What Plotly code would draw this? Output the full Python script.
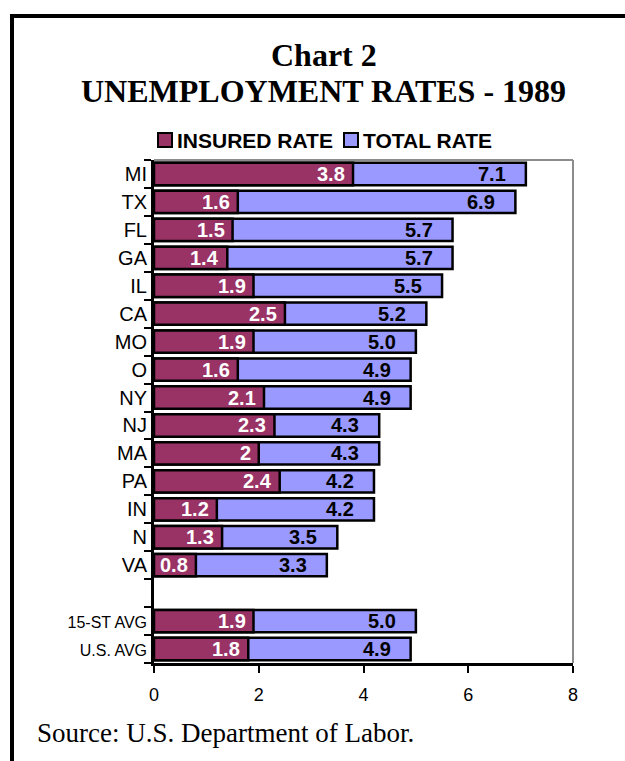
import plotly.graph_objects as go

states = ["MI", "TX", "FL", "GA", "IL", "CA", "MO", "O", "NY", "NJ", "MA", "PA",
          "IN", "N", "VA", " ", "15-ST AVG", "U.S. AVG"]
tick_labels = ["MI", "TX", "FL", "GA", "IL", "CA", "MO", "O", "NY", "NJ", "MA", "PA",
               "IN", "N", "VA", " ",
               "<span style='font-size:16px'>15-ST AVG</span>",
               "<span style='font-size:16px'>U.S. AVG</span>"]
insured = [3.8, 1.6, 1.5, 1.4, 1.9, 2.5, 1.9, 1.6, 2.1, 2.3, 2.0, 2.4,
           1.2, 1.3, 0.8, None, 1.9, 1.8]
insured_text = ["3.8", "1.6", "1.5", "1.4", "1.9", "2.5", "1.9", "1.6", "2.1", "2.3", "2", "2.4",
                "1.2", "1.3", "0.8", "", "1.9", "1.8"]
total = [7.1, 6.9, 5.7, 5.7, 5.5, 5.2, 5.0, 4.9, 4.9, 4.3, 4.3, 4.2,
         4.2, 3.5, 3.3, None, 5.0, 4.9]
x_ticks = [0, 2, 4, 6, 8]
series_names = ["INSURED RATE", "TOTAL RATE"]

RED = "#993366"
BLUE = "#9999FF"

W, H = 625, 761
L, R, T, B = 154, 52, 160, 98
PW, PH = W - L - R, H - T - B

def px(xp):
    return (xp - L) / PW

def py(yp):
    return (H - B - yp) / PH

fig = go.Figure()
fig.add_trace(go.Bar(
    y=states, x=total, orientation="h", name=series_names[1],
    marker=dict(color=BLUE, line=dict(color="black", width=2.5)),
    width=0.8, showlegend=False, hoverinfo="x+y",
))
fig.add_trace(go.Bar(
    y=states, x=insured, orientation="h", name=series_names[0],
    marker=dict(color=RED, line=dict(color="black", width=2.5)),
    width=0.8, showlegend=False, hoverinfo="x+y",
))

annotations = []
for s, v, t in zip(states, insured, insured_text):
    if v is None:
        continue
    annotations.append(dict(x=v, y=s, xref="x", yref="y", text=f"<b>{t}</b>",
                            showarrow=False, xanchor="right", xshift=-6,
                            font=dict(family="Arial, Liberation Sans", size=20, color="white")))
for s, v in zip(states, total):
    if v is None:
        continue
    annotations.append(dict(x=v, y=s, xref="x", yref="y", text=f"<b>{v:.1f}</b>",
                            showarrow=False, xanchor="right", xshift=-18,
                            font=dict(family="Arial, Liberation Sans", size=20, color="black")))

serif = "Times New Roman, Liberation Serif"
annotations += [
    dict(x=px(324), y=py(55), xref="paper", yref="paper", text="<b>Chart 2</b>",
         showarrow=False, xanchor="center", yanchor="middle",
         font=dict(family=serif, size=32, color="black")),
    dict(x=px(323), y=py(91), xref="paper", yref="paper", text="<b>UNEMPLOYMENT RATES - 1989</b>",
         showarrow=False, xanchor="center", yanchor="middle",
         font=dict(family=serif, size=32, color="black")),
    dict(x=px(35), y=py(733), xref="paper", yref="paper", text="Source: U.S. Department of Labor.",
         showarrow=False, xanchor="left", yanchor="middle",
         font=dict(family=serif, size=27, color="black")),
]

# legend (manual: swatch + label)
legend_items = [(series_names[0], RED, 158), (series_names[1], BLUE, 344)]
shapes = []
for name, col, x0 in legend_items:
    shapes.append(dict(type="rect", xref="paper", yref="paper",
                       x0=px(x0), x1=px(x0 + 14), y0=py(147), y1=py(133),
                       fillcolor=col, line=dict(color="black", width=2)))
    annotations.append(dict(x=px(x0 + 17), y=py(140.5), xref="paper", yref="paper",
                            text=f"<b>{name}</b>", showarrow=False,
                            xanchor="left", yanchor="middle",
                            font=dict(family="Arial, Liberation Sans", size=21, color="black")))

shapes += [
    # outer frame (left and top)
    dict(type="line", xref="paper", yref="paper", x0=px(12), x1=px(12), y0=py(14), y1=py(775),
         line=dict(color="black", width=4)),
    dict(type="line", xref="paper", yref="paper", x0=px(10), x1=px(640), y0=py(16), y1=py(16),
         line=dict(color="black", width=4)),
    # plot area gray frame top/right
    dict(type="line", xref="paper", yref="paper", x0=0, x1=1, y0=1, y1=1,
         line=dict(color="#8c8c8c", width=2)),
    dict(type="line", xref="paper", yref="paper", x0=1, x1=1, y0=0, y1=1,
         line=dict(color="#8c8c8c", width=2)),
]

fig.update_layout(
    width=W, height=H,
    margin=dict(l=L, r=R, t=T, b=B, pad=0),
    paper_bgcolor="white", plot_bgcolor="white",
    barmode="overlay",
    font=dict(family="Arial, Liberation Sans", color="black"),
    showlegend=False,
    annotations=annotations,
    shapes=shapes,
    xaxis=dict(range=[0, 8], tickmode="array", tickvals=x_ticks, ticks="outside", ticklen=7,
               tickwidth=2, tickcolor="black", showline=True, linecolor="black", linewidth=3,
               showgrid=False, zeroline=False, tickfont=dict(size=18), ticklabelstandoff=6,
               fixedrange=True),
    yaxis=dict(type="category", categoryorder="array", categoryarray=states,
               autorange="reversed", tickmode="array", tickvals=states, ticktext=tick_labels,
               tickson="boundaries", ticks="outside", ticklen=7, tickwidth=2, tickcolor="black",
               showline=True, linecolor="black", linewidth=3, showgrid=False, zeroline=False,
               tickfont=dict(size=20), fixedrange=True),
)

fig.write_html("out.html")
